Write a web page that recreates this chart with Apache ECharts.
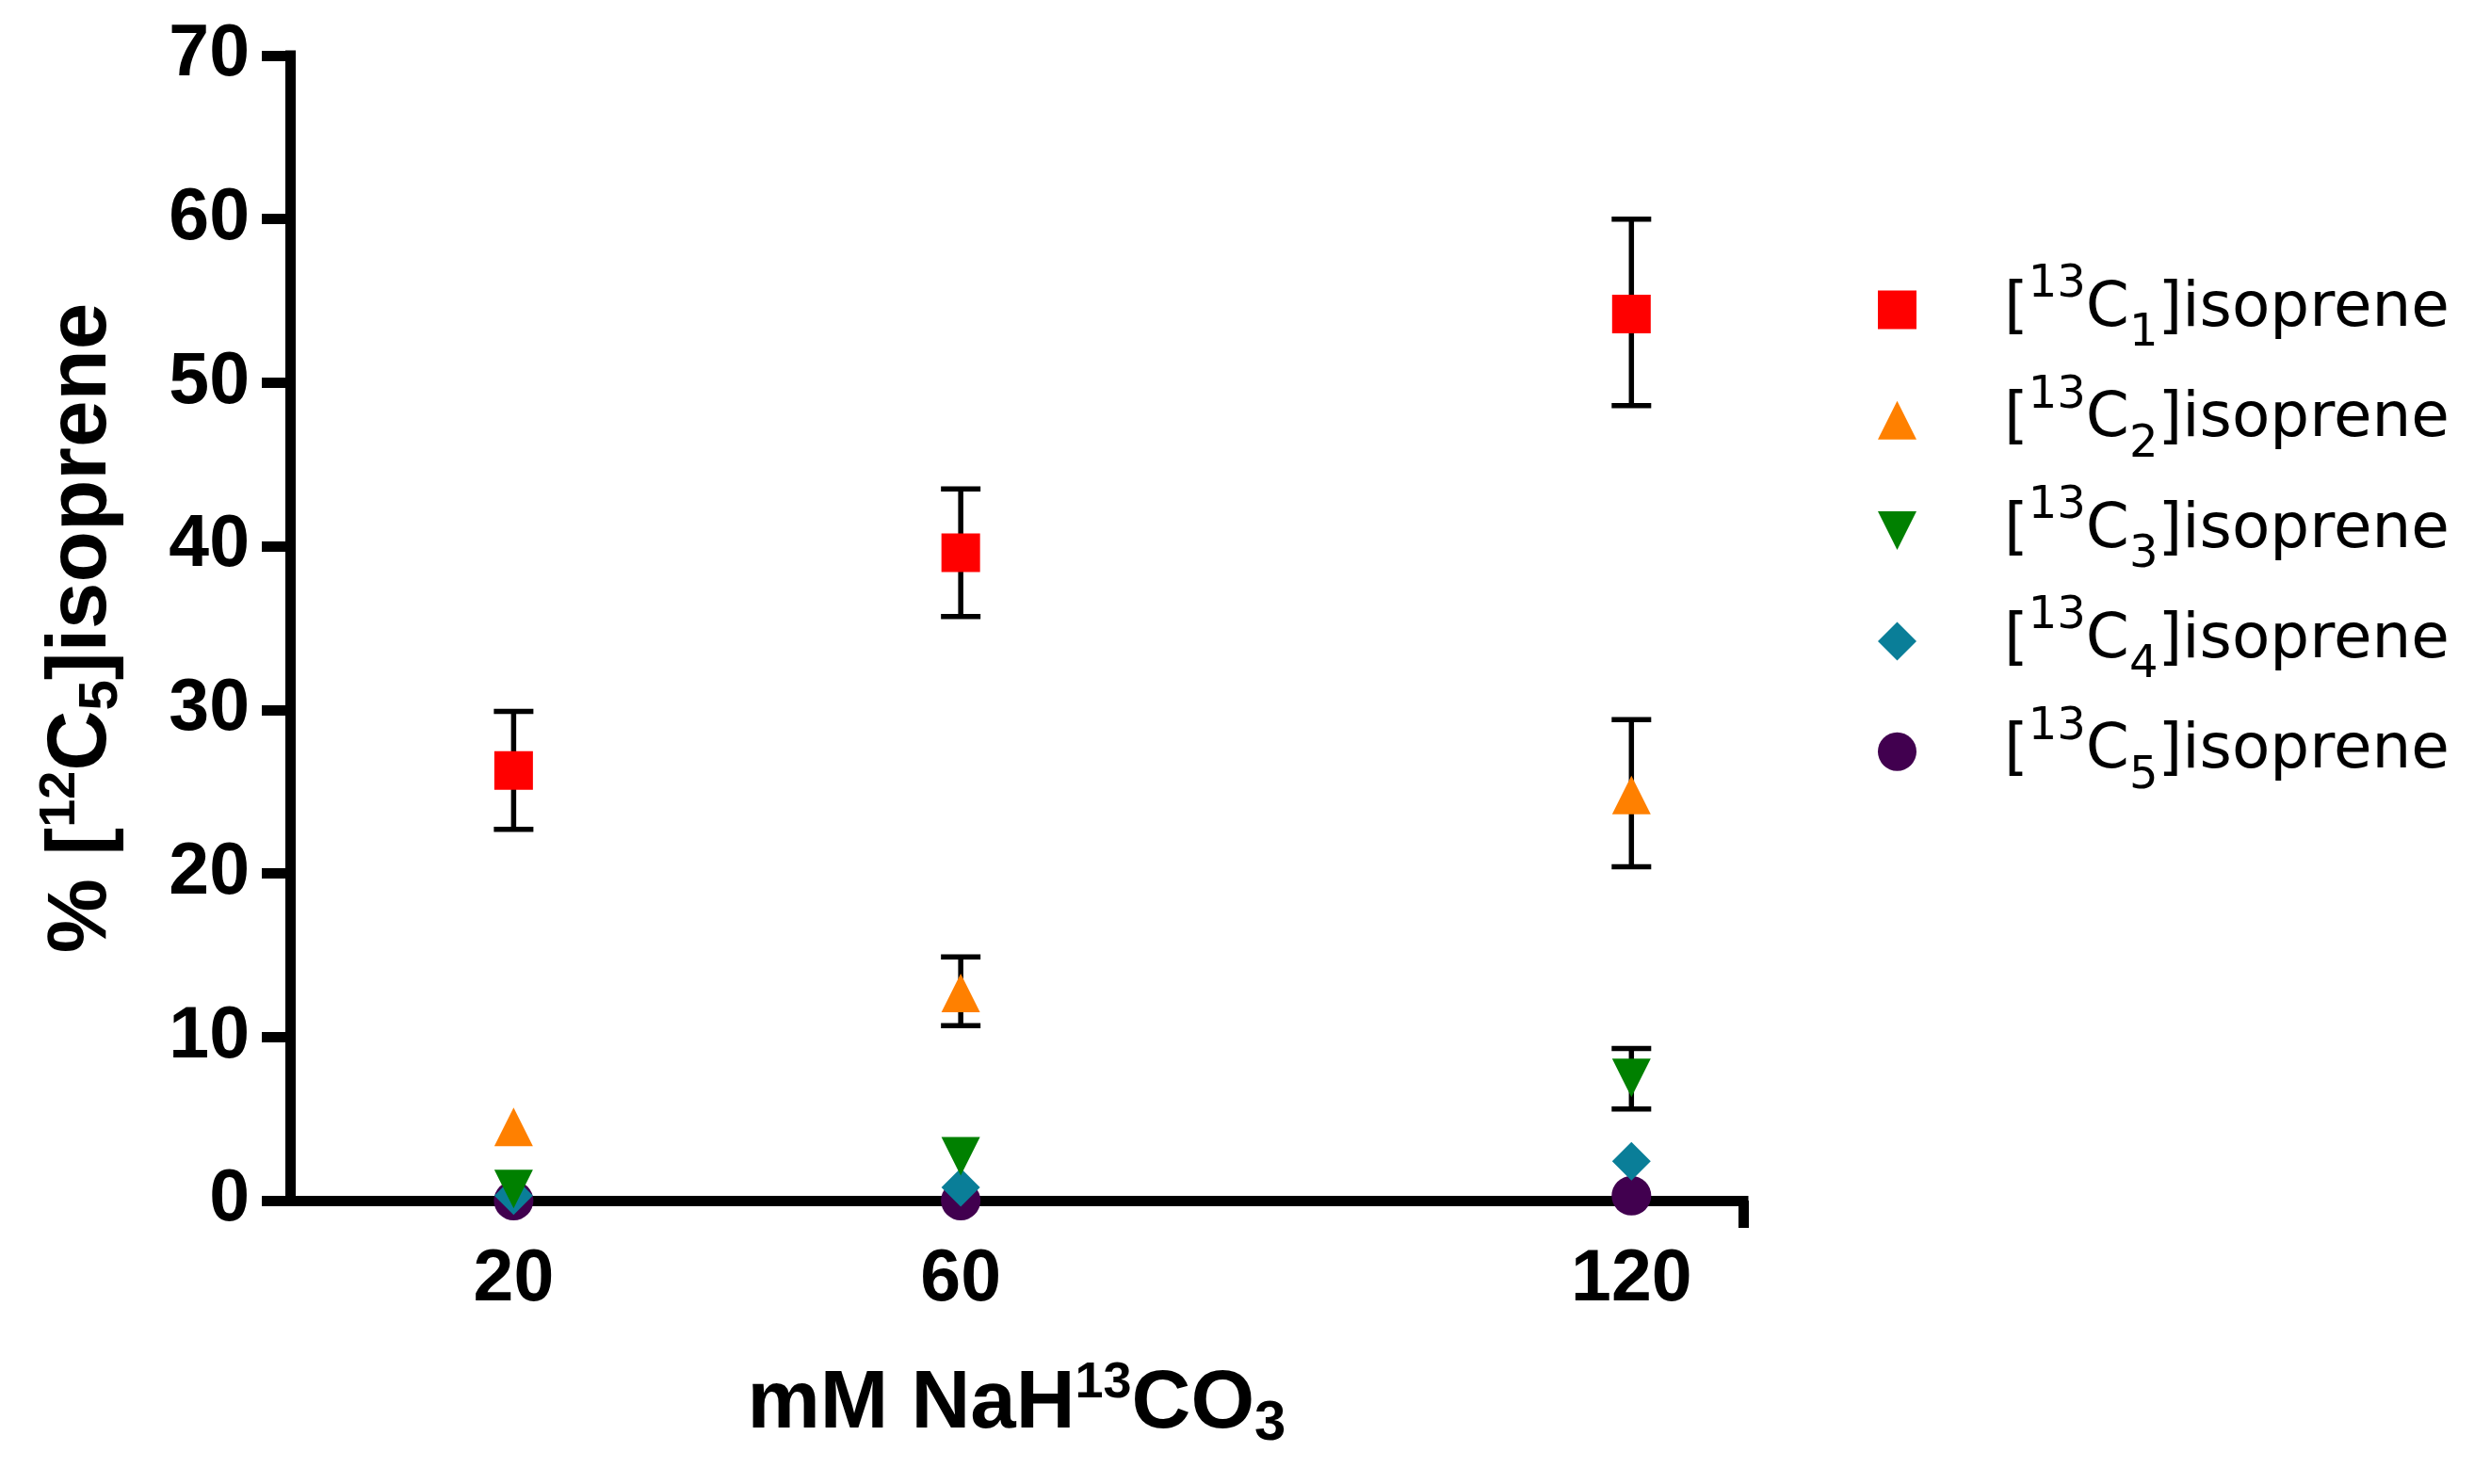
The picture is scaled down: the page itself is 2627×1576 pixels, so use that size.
<!DOCTYPE html>
<html>
<head>
<meta charset="utf-8">
<script src="https://cdn.jsdelivr.net/npm/echarts@6/dist/echarts.min.js"></script>
<style>
html,body{margin:0;padding:0;background:#ffffff;}
#chart{width:2627px;height:1576px;}
</style>
</head>
<body>
<div id="chart"></div>
<script>
// ---- data ----
const doses = [20, 60, 120];                 // mM NaH13CO3
const xTickLabels = [20, 60, 120];
const yTicks = [0, 10, 20, 30, 40, 50, 60, 70];
const seriesNames = ['[13C1]isoprene', '[13C2]isoprene', '[13C3]isoprene', '[13C4]isoprene', '[13C5]isoprene'];
const subDigits = ['1', '2', '3', '4', '5'];

const c1 = [26.3, 39.6, 54.2];
const c1Low = [22.7, 35.7, 48.6];
const c1High = [29.9, 43.5, 60.0];

const c2 = [4.5, 12.7, 24.8];
const c2Low = [null, 10.7, 20.4];
const c2High = [null, 14.9, 29.4];

const c3 = [0.7, 2.7, 7.5];
const c3Low = [null, null, 5.6];
const c3High = [null, null, 9.3];

const c4 = [0.3, 0.8, 2.4];
const c5 = [0.0, 0.0, 0.3];

// ---- styling ----
const colors = ['#ff0000', '#ff8000', '#008000', '#0a7e98', '#41004f'];
const boldFont = 'Liberation Sans';
const legendFont = 'DejaVu Sans';

function pairs(vals) { return vals.map((v, i) => [doses[i], v]); }
function errData(lo, hi) {
  const out = [];
  lo.forEach((l, i) => { if (l != null && hi[i] != null) out.push([doses[i], l, hi[i]]); });
  return out;
}
const errorData = [].concat(errData(c1Low, c1High), errData(c2Low, c2High), errData(c3Low, c3High));

const chart = echarts.init(document.getElementById('chart'), null, {renderer: 'canvas'});

const axisNameBold = function (size, lh) {
  return {fontFamily: boldFont, fontWeight: 'bold', fontSize: size, lineHeight: lh, color: '#000'};
};

const option = {
  animation: false,
  backgroundColor: '#ffffff',
  grid: {left: 308, right: 776, top: 59, bottom: 301, containLabel: false, outerBoundsMode: 'none'},
  legend: {
    orient: 'vertical',
    left: 1994,
    top: 279,
    padding: 0,
    itemGap: 17.3,
    itemWidth: 41,
    itemHeight: 41,
    data: seriesNames,
    selectedMode: false,
    formatter: function (name) {
      const i = seriesNames.indexOf(name);
      return '{sp| }{b|[}{sup|13}{b|C}{sub|' + subDigits[i] + '}{b|]isoprene}';
    },
    textStyle: {
      color: '#000',
      fontFamily: legendFont,
      fontSize: 66,
      rich: {
        sp: {width: 88, fontSize: 10, lineHeight: 10, fontFamily: legendFont},
        b: {fontFamily: legendFont, fontSize: 66, lineHeight: 100, color: '#000'},
        sup: {fontFamily: legendFont, fontSize: 48, lineHeight: 40, verticalAlign: 'top', color: '#000'},
        sub: {fontFamily: legendFont, fontSize: 48, lineHeight: 62, verticalAlign: 'bottom', color: '#000'}
      }
    }
  },
  xAxis: {
    type: 'value',
    min: 0,
    max: 130,
    splitLine: {show: false},
    axisLine: {show: true, onZero: false, lineStyle: {color: '#000', width: 11, cap: 'square'}},
    axisTick: {show: true, customValues: [130], length: 29, inside: false, lineStyle: {color: '#000', width: 11}},
    axisLabel: {customValues: xTickLabels, margin: 46, fontSize: 77, fontWeight: 'bold', fontFamily: boldFont, color: '#000'},
    name: '{b|mM NaH}{sup|13}{b|CO}{sub|3}',
    nameLocation: 'middle',
    nameGap: 167,
    nameTextStyle: {
      fontFamily: boldFont, fontWeight: 'bold', fontSize: 87, color: '#000',
      rich: {
        b: axisNameBold(87, 100),
        sup: Object.assign(axisNameBold(54, 44), {verticalAlign: 'top'}),
        sub: Object.assign(axisNameBold(60, 46), {verticalAlign: 'bottom'})
      }
    }
  },
  yAxis: {
    type: 'value',
    min: yTicks[0],
    max: yTicks[yTicks.length - 1],
    interval: 10,
    splitLine: {show: false},
    axisLine: {show: true, onZero: false, lineStyle: {color: '#000', width: 11, cap: 'square'}},
    axisTick: {show: true, length: 30, inside: false, lineStyle: {color: '#000', width: 11}},
    axisLabel: {margin: 43, fontSize: 77, fontWeight: 'bold', fontFamily: boldFont, color: '#000'},
    name: '{b|% [}{sup|12}{b|C}{sub|5}{b|]isoprene}',
    nameLocation: 'middle',
    nameGap: 171,
    nameTextStyle: {
      fontFamily: boldFont, fontWeight: 'bold', fontSize: 89, color: '#000',
      rich: {
        b: axisNameBold(89, 100),
        sup: Object.assign(axisNameBold(54, 40), {verticalAlign: 'top'}),
        sub: Object.assign(axisNameBold(58, 46), {verticalAlign: 'bottom'})
      }
    }
  },
  series: [
    {
      name: 'error bars',
      type: 'custom',
      data: errorData,
      encode: {x: 0, y: [1, 2]},
      silent: true,
      z: 1,
      renderItem: function (params, api) {
        const x = api.value(0);
        const pLo = api.coord([x, api.value(1)]);
        const pHi = api.coord([x, api.value(2)]);
        const hw = 21;
        const st = {stroke: '#000', lineWidth: 5.5, fill: null};
        return {
          type: 'group',
          children: [
            {type: 'line', shape: {x1: pLo[0], y1: pLo[1], x2: pHi[0], y2: pHi[1]}, style: st},
            {type: 'line', shape: {x1: pLo[0] - hw, y1: pLo[1], x2: pLo[0] + hw, y2: pLo[1]}, style: st},
            {type: 'line', shape: {x1: pHi[0] - hw, y1: pHi[1], x2: pHi[0] + hw, y2: pHi[1]}, style: st}
          ]
        };
      }
    },
    {name: seriesNames[4], type: 'scatter', data: pairs(c5), symbol: 'circle', symbolSize: 42, itemStyle: {color: colors[4], opacity: 1}, z: 2},
    {name: seriesNames[3], type: 'scatter', data: pairs(c4), symbol: 'diamond', symbolSize: 41, itemStyle: {color: colors[3], opacity: 1}, z: 2},
    {name: seriesNames[2], type: 'scatter', data: pairs(c3), symbol: 'path://M0,0L2,0L1,2Z', symbolSize: 41, itemStyle: {color: colors[2], opacity: 1}, z: 2},
    {name: seriesNames[1], type: 'scatter', data: pairs(c2), symbol: 'triangle', symbolSize: 41, itemStyle: {color: colors[1], opacity: 1}, z: 2},
    {name: seriesNames[0], type: 'scatter', data: pairs(c1), symbol: 'rect', symbolSize: 41, itemStyle: {color: colors[0], opacity: 1}, z: 2}
  ]
};
chart.setOption(option);
</script>
</body>
</html>
